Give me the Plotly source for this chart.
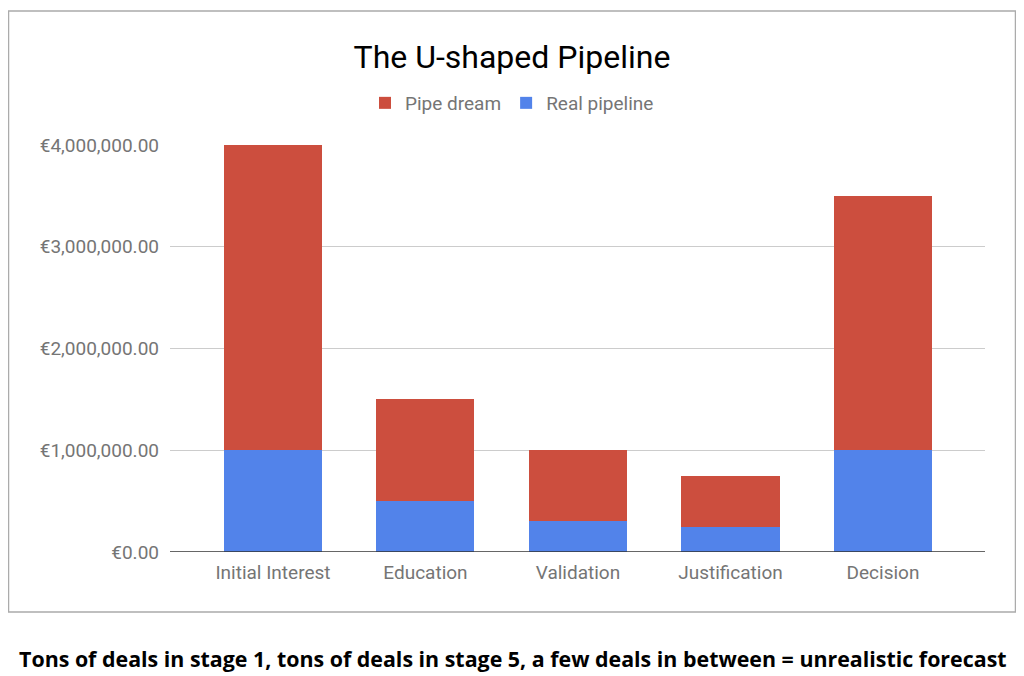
import plotly.graph_objects as go

stages = ["Initial Interest", "Education", "Validation", "Justification", "Decision"]
real_pipeline = [1000000, 500000, 300000, 250000, 1000000]
pipe_dream = [3000000, 1000000, 700000, 500000, 2500000]
y_ticks = [0, 1000000, 2000000, 3000000, 4000000]
y_tick_labels = ["€0.00", "€1,000,000.00", "€2,000,000.00", "€3,000,000.00", "€4,000,000.00"]

# page body has an 8px margin; work in window coords and subtract it
OFF = 8
W, H = 1024 - OFF, 676 - OFF
L, R, T, B = 170 - OFF, 985 - OFF, 145 - OFF, 552 - OFF
pw, ph = R - L, B - T

def px(x):
    return (x - OFF - L) / pw

def py(y):
    return (B - (y - OFF)) / ph

fig = go.Figure()
fig.add_trace(go.Bar(x=list(range(len(stages))), y=real_pipeline, name="Real pipeline",
                     marker=dict(color="#5283EA", line=dict(width=0)), width=0.643))
fig.add_trace(go.Bar(x=list(range(len(stages))), y=pipe_dream, name="Pipe dream",
                     marker=dict(color="#CC4E3E", line=dict(width=0)), width=0.643))

fig.update_layout(
    width=W, height=H,
    margin=dict(l=L, r=W - R, t=T, b=H - B, pad=0),
    barmode="stack",
    plot_bgcolor="white", paper_bgcolor="white",
    font=dict(family="Roboto", color="#757575", size=19),
    title=dict(text="The U-shaped Pipeline", x=(512 - OFF) / W, xref="container", xanchor="center",
               y=1 - (57 - OFF) / H, yref="container", yanchor="middle",
               font=dict(family="Roboto", size=32, color="#000000")),
    legend=dict(orientation="h", xref="container", x=(512 - OFF) / W, xanchor="center",
                yref="container", y=1 - (103 - OFF) / H, yanchor="middle",
                traceorder="reversed", font=dict(size=19, color="#757575"),
                itemwidth=30),
    showlegend=True,
    xaxis=dict(tickmode="array", tickvals=list(range(len(stages))), ticktext=stages,
               range=[-0.675, 4.669], showgrid=False, zeroline=False, showline=False,
               ticks="", ticklabelstandoff=7, tickfont=dict(size=19, color="#757575")),
    yaxis=dict(tickmode="array", tickvals=y_ticks, ticktext=y_tick_labels,
               range=[0, 4000000], showgrid=True, gridcolor="#CCCCCC", gridwidth=1,
               zeroline=False, showline=False, ticks="", ticklabelstandoff=10,
               tickfont=dict(size=19, color="#757575")),
)

# baseline
fig.add_shape(type="line", xref="paper", yref="y", x0=0, x1=1, y0=0, y1=0,
              line=dict(color="#333333", width=1.5), layer="above")
# outer border box
fig.add_shape(type="rect", xref="paper", yref="paper",
              x0=px(8.5), x1=px(1015.5), y0=py(612), y1=py(11),
              line=dict(color="#ABABAB", width=1.5), fillcolor="rgba(0,0,0,0)", layer="below")
# caption
fig.add_annotation(text="<b>Tons of deals in stage 1, tons of deals in stage 5, a few deals in between = unrealistic forecast</b>",
                   xref="paper", yref="paper", x=px(513), y=py(658), xanchor="center", yanchor="middle",
                   showarrow=False, font=dict(family="Open Sans", size=21.4, color="#000000"))

fig.write_html("out.html")
